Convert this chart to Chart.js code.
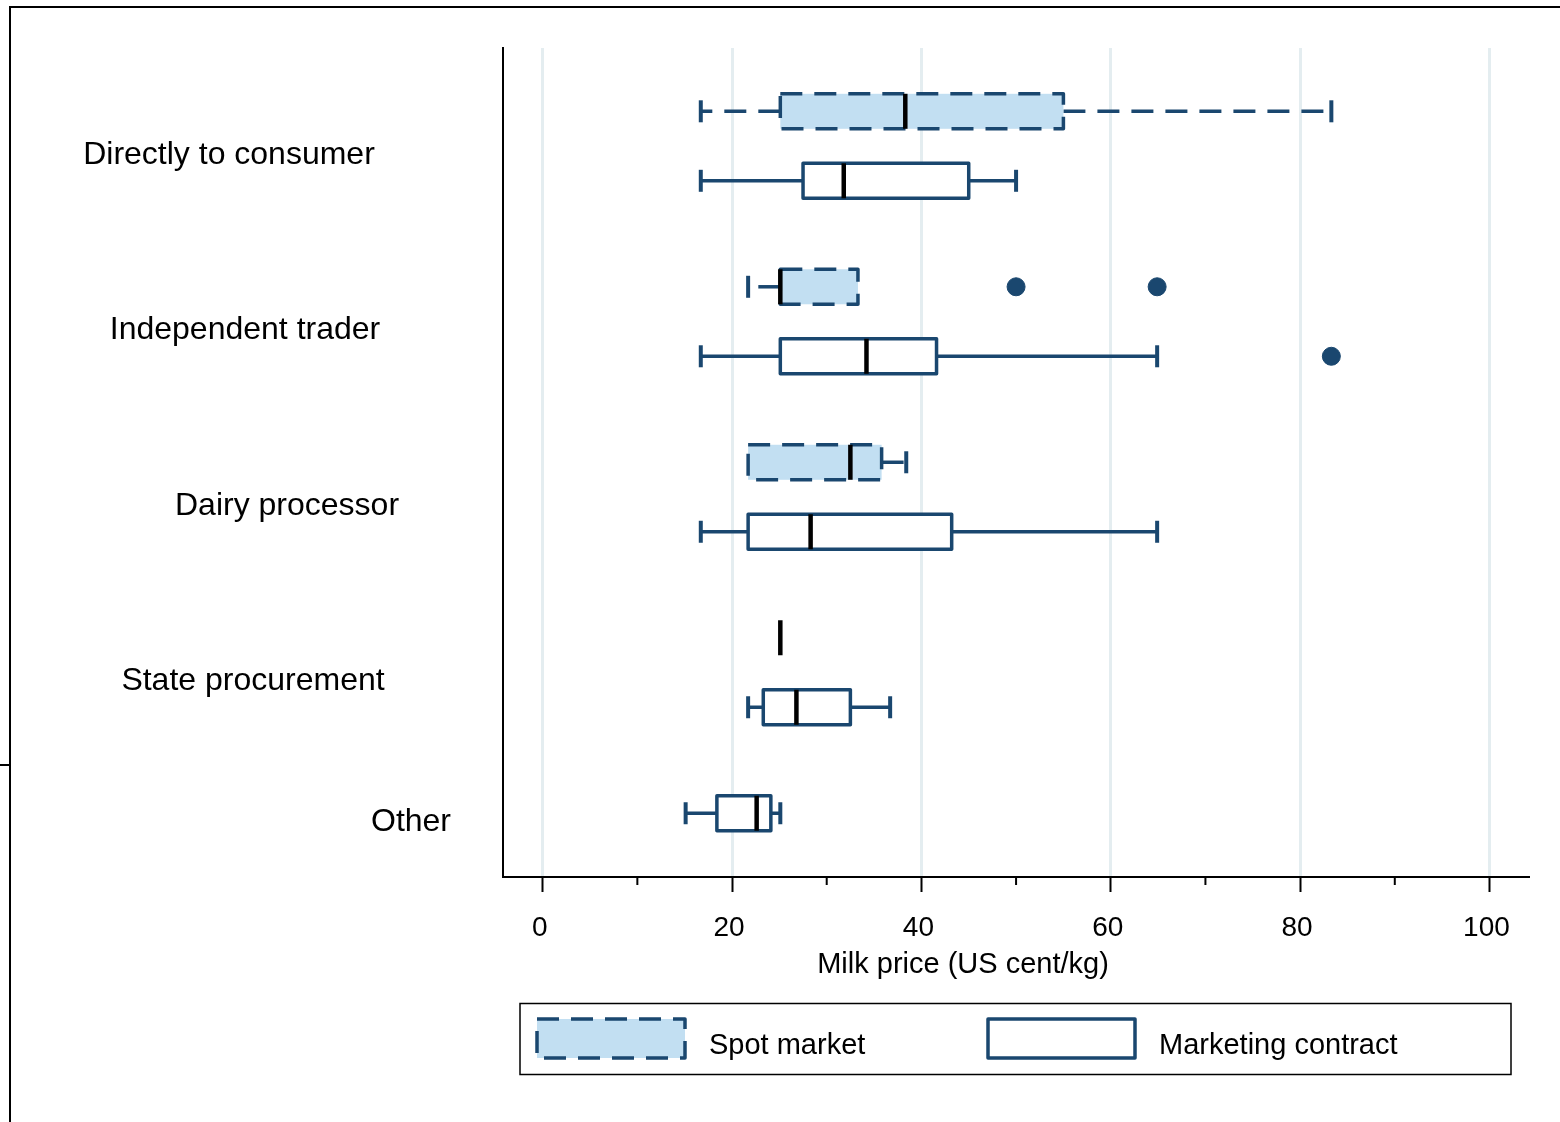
<!DOCTYPE html>
<html>
<head>
<meta charset="utf-8">
<script src="https://cdn.jsdelivr.net/npm/chart.js@4/dist/chart.umd.min.js"></script>
<style>
  html, body { margin: 0; padding: 0; background: #fff; }
  canvas { display: block; }
</style>
</head>
<body>
<canvas id="chart" width="1560" height="1122"></canvas>
<script>
// Sales channels (rows of the plot)
const categories = ['Directly to consumer', 'Independent trader', 'Dairy processor', 'State procurement', 'Other'];

// Spot market: box-plot summary per channel (US cent/kg)
const spotMin    = [16.7, 21.7, 21.7, 25.1, null];
const spotQ1     = [25.1, 25.1, 21.7, 25.1, null];
const spotMedian = [38.3, 25.1, 32.5, 25.1, null];
const spotQ3     = [55.0, 33.3, 35.8, 25.1, null];
const spotMax    = [83.3, 33.3, 38.4, 25.1, null];
const spotOutliers = [[], [50.0, 64.9], [], [], []];

// Marketing contract: box-plot summary per channel (US cent/kg)
const contractMin    = [16.7, 16.7, 16.7, 21.7, 15.1];
const contractQ1     = [27.5, 25.1, 21.7, 23.3, 18.4];
const contractMedian = [31.8, 34.2, 28.3, 26.8, 22.6];
const contractQ3     = [45.0, 41.6, 43.2, 32.5, 24.1];
const contractMax    = [50.0, 64.9, 64.9, 36.7, 25.1];
const contractOutliers = [[], [83.3], [], [], []];

// Axis ticks
const xMajorTicks = [0, 20, 40, 60, 80, 100];
const xMinorTicks = [10, 30, 50, 70, 90];
const xAxisTitle = 'Milk price (US cent/kg)';
const legendLabels = ['Spot market', 'Marketing contract'];

const NAVY = '#1a476f';
const SPOT_FILL = '#c2dff2';
const GRID = '#e4edf0';
const FONT = '"Liberation Sans", Arial, Helvetica, sans-serif';
const PAIR_GAP = 0.396;

function hasSpot(g) { return spotMedian[g] !== null; }
function hasContract(g) { return contractMedian[g] !== null; }
function spotRow(g) { return g; }
function contractRow(g) { return hasSpot(g) ? g + PAIR_GAP : g; }

function statsOf(mins, q1s, meds, q3s, maxs, g) {
  return { min: mins[g], q1: q1s[g], med: meds[g], q3: q3s[g], max: maxs[g] };
}

const spotOutlierPoints = spotOutliers.flatMap((vals, g) => vals.map(v => ({ x: v, y: spotRow(g) })));
const contractOutlierPoints = contractOutliers.flatMap((vals, g) => vals.map(v => ({ x: v, y: contractRow(g) })));

function drawBox(ctx, xs, ys, row, st, dashed, fill) {
  const y = ys.getPixelForValue(row);
  const h = 35, cap = 22;
  const px = v => xs.getPixelForValue(v);
  const xMin = px(st.min), xQ1 = px(st.q1), xMed = px(st.med), xQ3 = px(st.q3), xMax = px(st.max);
  ctx.save();
  ctx.lineCap = 'butt';
  ctx.lineJoin = 'round';
  ctx.strokeStyle = NAVY;
  ctx.lineWidth = 3.5;
  // whiskers, drawn outward from the box
  ctx.setLineDash(dashed ? [22, 12] : []);
  if (st.min < st.q1) {
    ctx.beginPath(); ctx.moveTo(xQ1, y); ctx.lineTo(xMin, y); ctx.stroke();
  }
  if (st.max > st.q3) {
    ctx.beginPath(); ctx.moveTo(xQ3, y); ctx.lineTo(xMax, y); ctx.stroke();
  }
  ctx.setLineDash([]);
  ctx.lineWidth = 4;
  if (st.min < st.q1) {
    ctx.beginPath(); ctx.moveTo(xMin, y - cap / 2); ctx.lineTo(xMin, y + cap / 2); ctx.stroke();
  }
  if (st.max > st.q3) {
    ctx.beginPath(); ctx.moveTo(xMax, y - cap / 2); ctx.lineTo(xMax, y + cap / 2); ctx.stroke();
  }
  // box
  ctx.lineWidth = 3.5;
  if (xQ3 > xQ1) {
    ctx.fillStyle = fill;
    ctx.fillRect(xQ1, y - h / 2, xQ3 - xQ1, h);
    ctx.setLineDash(dashed ? [22, 12] : []);
    ctx.strokeRect(xQ1, y - h / 2, xQ3 - xQ1, h);
    ctx.setLineDash([]);
  }
  // median
  ctx.strokeStyle = '#000';
  ctx.lineWidth = 4.5;
  ctx.beginPath(); ctx.moveTo(xMed, y - h / 2); ctx.lineTo(xMed, y + h / 2); ctx.stroke();
  ctx.restore();
}

const boxPlotPlugin = {
  id: 'boxPlot',
  beforeDraw(chart) {
    const ctx = chart.ctx;
    ctx.save();
    ctx.fillStyle = '#fff';
    ctx.fillRect(0, 0, chart.width, chart.height);
    // outer frame
    ctx.strokeStyle = '#000';
    ctx.lineWidth = 2;
    ctx.beginPath();
    ctx.moveTo(10, 1122); ctx.lineTo(10, 7); ctx.lineTo(1560, 7);
    ctx.moveTo(0, 765); ctx.lineTo(10, 765);
    ctx.stroke();
    ctx.restore();
  },
  beforeDatasetsDraw(chart) {
    const ctx = chart.ctx;
    const xs = chart.scales.x, ys = chart.scales.y;
    categories.forEach((_, g) => {
      if (hasSpot(g)) {
        drawBox(ctx, xs, ys, spotRow(g), statsOf(spotMin, spotQ1, spotMedian, spotQ3, spotMax, g), true, SPOT_FILL);
      }
      if (hasContract(g)) {
        drawBox(ctx, xs, ys, contractRow(g), statsOf(contractMin, contractQ1, contractMedian, contractQ3, contractMax, g), false, '#fff');
      }
    });
  },
  afterDraw(chart) {
    const ctx = chart.ctx;
    const xs = chart.scales.x, ys = chart.scales.y;
    const axisY = chart.chartArea.bottom;
    ctx.save();
    // minor ticks
    ctx.strokeStyle = '#000';
    ctx.lineWidth = 2;
    xMinorTicks.forEach(v => {
      const x = xs.getPixelForValue(v);
      ctx.beginPath(); ctx.moveTo(x, axisY); ctx.lineTo(x, axisY + 8); ctx.stroke();
    });
    // row labels
    const rowLabelX = [229, 245, 287, 253, 411];
    ctx.fillStyle = '#000';
    ctx.font = '32px ' + FONT;
    ctx.textAlign = 'center';
    ctx.textBaseline = 'middle';
    categories.forEach((name, g) => {
      const rows = [];
      if (hasSpot(g)) rows.push(spotRow(g));
      if (hasContract(g)) rows.push(contractRow(g));
      const mid = rows.reduce((a, b) => a + b, 0) / rows.length + 0.04;
      ctx.fillText(name, rowLabelX[g], ys.getPixelForValue(mid) + 2);
    });
    // axis title
    ctx.font = '29px ' + FONT;
    ctx.fillText(xAxisTitle, 963, 965);
    // legend
    ctx.lineWidth = 1.5;
    ctx.strokeStyle = '#000';
    ctx.strokeRect(520, 1003.5, 991, 71);
    ctx.lineWidth = 3.5;
    ctx.lineJoin = 'round';
    ctx.fillStyle = SPOT_FILL;
    ctx.fillRect(537, 1019, 148, 39);
    ctx.strokeStyle = NAVY;
    ctx.setLineDash([22, 12]);
    ctx.strokeRect(537, 1019, 148, 39);
    ctx.setLineDash([]);
    ctx.fillStyle = '#fff';
    ctx.fillRect(988, 1019, 147, 39);
    ctx.strokeRect(988, 1019, 147, 39);
    ctx.fillStyle = '#000';
    ctx.textAlign = 'left';
    ctx.font = '29px ' + FONT;
    ctx.fillText(legendLabels[0], 709, 1046);
    ctx.fillText(legendLabels[1], 1159, 1046);
    ctx.restore();
  }
};

new Chart(document.getElementById('chart'), {
  type: 'scatter',
  data: {
    datasets: [
      { label: legendLabels[0], data: spotOutlierPoints, pointRadius: 9, pointHoverRadius: 9,
        backgroundColor: NAVY, borderColor: NAVY, borderWidth: 1 },
      { label: legendLabels[1], data: contractOutlierPoints, pointRadius: 9, pointHoverRadius: 9,
        backgroundColor: NAVY, borderColor: NAVY, borderWidth: 1 }
    ]
  },
  options: {
    responsive: false,
    animation: false,
    devicePixelRatio: 1,
    layout: { padding: { left: 503, right: 32, top: 48, bottom: 135 } },
    plugins: { legend: { display: false }, tooltip: { enabled: false } },
    scales: {
      x: {
        type: 'linear',
        min: -4.19,
        max: 104.07,
        afterBuildTicks: s => { s.ticks = xMajorTicks.map(v => ({ value: v })); },
        afterFit: s => { s.height = 110; },
        grid: { color: GRID, lineWidth: 3, drawTicks: true, tickLength: 15, tickColor: '#000', tickWidth: 2 },
        border: { display: true, color: '#000', width: 2 },
        ticks: { color: '#000', font: { family: FONT, size: 28 }, padding: 19, maxRotation: 0, autoSkip: false, labelOffset: -3 }
      },
      y: {
        type: 'linear',
        reverse: true,
        min: -0.3607,
        max: 4.3633,
        afterFit: s => { s.width = 0; },
        grid: { display: false },
        border: { display: true, color: '#000', width: 2 },
        ticks: { display: false }
      }
    }
  },
  plugins: [boxPlotPlugin]
});
</script>
</body>
</html>
